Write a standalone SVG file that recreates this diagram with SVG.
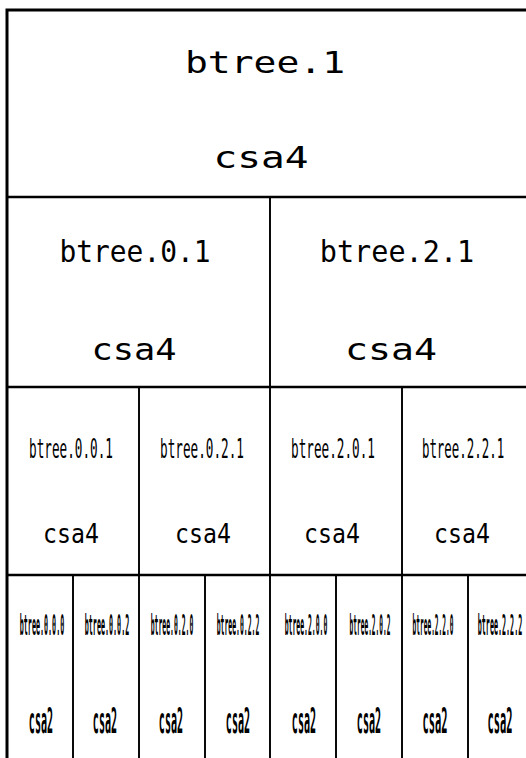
<svg xmlns="http://www.w3.org/2000/svg" width="526" height="758" viewBox="0 0 526 758">
<style>
.cell{fill:none;stroke:#000;stroke-width:1.6}
.outer{fill:none;stroke:#000;stroke-width:3}
.hl{stroke:#000;stroke-width:2.6}
text{font-family:"DejaVu Sans Mono","Liberation Mono",monospace;fill:#000;text-anchor:middle}
.t1{font-size:30px}
.t2{font-size:31px}
.t3{font-size:27px}
.t4{font-size:28px;font-weight:bold}
.t5{font-size:36px;font-weight:bold}
</style>
<rect width="526" height="758" fill="#fff"/>
<g id="connectors"></g>
<g id="btree.1">
<rect class="cell" x="7" y="10" width="528" height="187"/>
<text class="t1" x="265" y="73" textLength="160" lengthAdjust="spacingAndGlyphs">btree.1</text>
<text class="t1" x="261" y="168" textLength="95" lengthAdjust="spacingAndGlyphs">csa4</text>
</g>
<g id="btree.0.1">
<rect class="cell" x="7" y="197" width="263" height="190"/>
<text class="t2" transform="translate(135,262) scale(0.9,1)">btree.0.1</text>
<text class="t2" x="134" y="360" textLength="85" lengthAdjust="spacingAndGlyphs">csa4</text>
</g>
<g id="btree.2.1">
<rect class="cell" x="270" y="197" width="265" height="190"/>
<text class="t2" transform="translate(397,262) scale(0.92,1)">btree.2.1</text>
<text class="t2" x="391" y="360" textLength="92" lengthAdjust="spacingAndGlyphs">csa4</text>
</g>
<g id="btree.0.0.1">
<rect class="cell" x="7" y="387" width="132" height="188"/>
<text class="t3" transform="translate(71,458) scale(0.47,1)">btree.0.0.1</text>
<text class="t3" transform="translate(71,543) scale(0.86,1)">csa4</text>
</g>
<g id="btree.0.2.1">
<rect class="cell" x="139" y="387" width="131" height="188"/>
<text class="t3" transform="translate(202,458) scale(0.47,1)">btree.0.2.1</text>
<text class="t3" transform="translate(203,543) scale(0.86,1)">csa4</text>
</g>
<g id="btree.2.0.1">
<rect class="cell" x="270" y="387" width="132" height="188"/>
<text class="t3" transform="translate(333,458) scale(0.47,1)">btree.2.0.1</text>
<text class="t3" transform="translate(332,543) scale(0.86,1)">csa4</text>
</g>
<g id="btree.2.2.1">
<rect class="cell" x="402" y="387" width="133" height="188"/>
<text class="t3" transform="translate(463,458) scale(0.46,1)">btree.2.2.1</text>
<text class="t3" transform="translate(462,543) scale(0.86,1)">csa4</text>
</g>
<g id="btree.0.0.0">
<rect class="cell" x="7" y="575" width="66" height="190"/>
<text class="t4" transform="translate(42,635) scale(0.24,1)">btree.0.0.0</text>
<text class="t5" transform="translate(41,733) scale(0.28,1)">csa2</text>
</g>
<g id="btree.0.0.2">
<rect class="cell" x="73" y="575" width="66" height="190"/>
<text class="t4" transform="translate(107,635) scale(0.24,1)">btree.0.0.2</text>
<text class="t5" transform="translate(105,733) scale(0.28,1)">csa2</text>
</g>
<g id="btree.0.2.0">
<rect class="cell" x="139" y="575" width="66" height="190"/>
<text class="t4" transform="translate(172,635) scale(0.23,1)">btree.0.2.0</text>
<text class="t5" transform="translate(171,733) scale(0.28,1)">csa2</text>
</g>
<g id="btree.0.2.2">
<rect class="cell" x="205" y="575" width="65" height="190"/>
<text class="t4" transform="translate(238,635) scale(0.23,1)">btree.0.2.2</text>
<text class="t5" transform="translate(238,733) scale(0.28,1)">csa2</text>
</g>
<g id="btree.2.0.0">
<rect class="cell" x="270" y="575" width="66" height="190"/>
<text class="t4" transform="translate(306,635) scale(0.23,1)">btree.2.0.0</text>
<text class="t5" transform="translate(304,733) scale(0.28,1)">csa2</text>
</g>
<g id="btree.2.0.2">
<rect class="cell" x="336" y="575" width="66" height="190"/>
<text class="t4" transform="translate(370,635) scale(0.22,1)">btree.2.0.2</text>
<text class="t5" transform="translate(369,733) scale(0.28,1)">csa2</text>
</g>
<g id="btree.2.2.0">
<rect class="cell" x="402" y="575" width="66" height="190"/>
<text class="t4" transform="translate(433,635) scale(0.22,1)">btree.2.2.0</text>
<text class="t5" transform="translate(435,733) scale(0.29,1)">csa2</text>
</g>
<g id="btree.2.2.2">
<rect class="cell" x="468" y="575" width="67" height="190"/>
<text class="t4" transform="translate(500,635) scale(0.24,1)">btree.2.2.2</text>
<text class="t5" transform="translate(500,733) scale(0.29,1)">csa2</text>
</g>
<g id="frame">
<rect class="outer" x="7" y="10" width="528" height="760"/>
<line class="hl" x1="7" y1="197" x2="535" y2="197"/>
<line class="hl" x1="7" y1="387" x2="535" y2="387"/>
<line class="hl" x1="7" y1="575" x2="535" y2="575"/>
</g>
</svg>
